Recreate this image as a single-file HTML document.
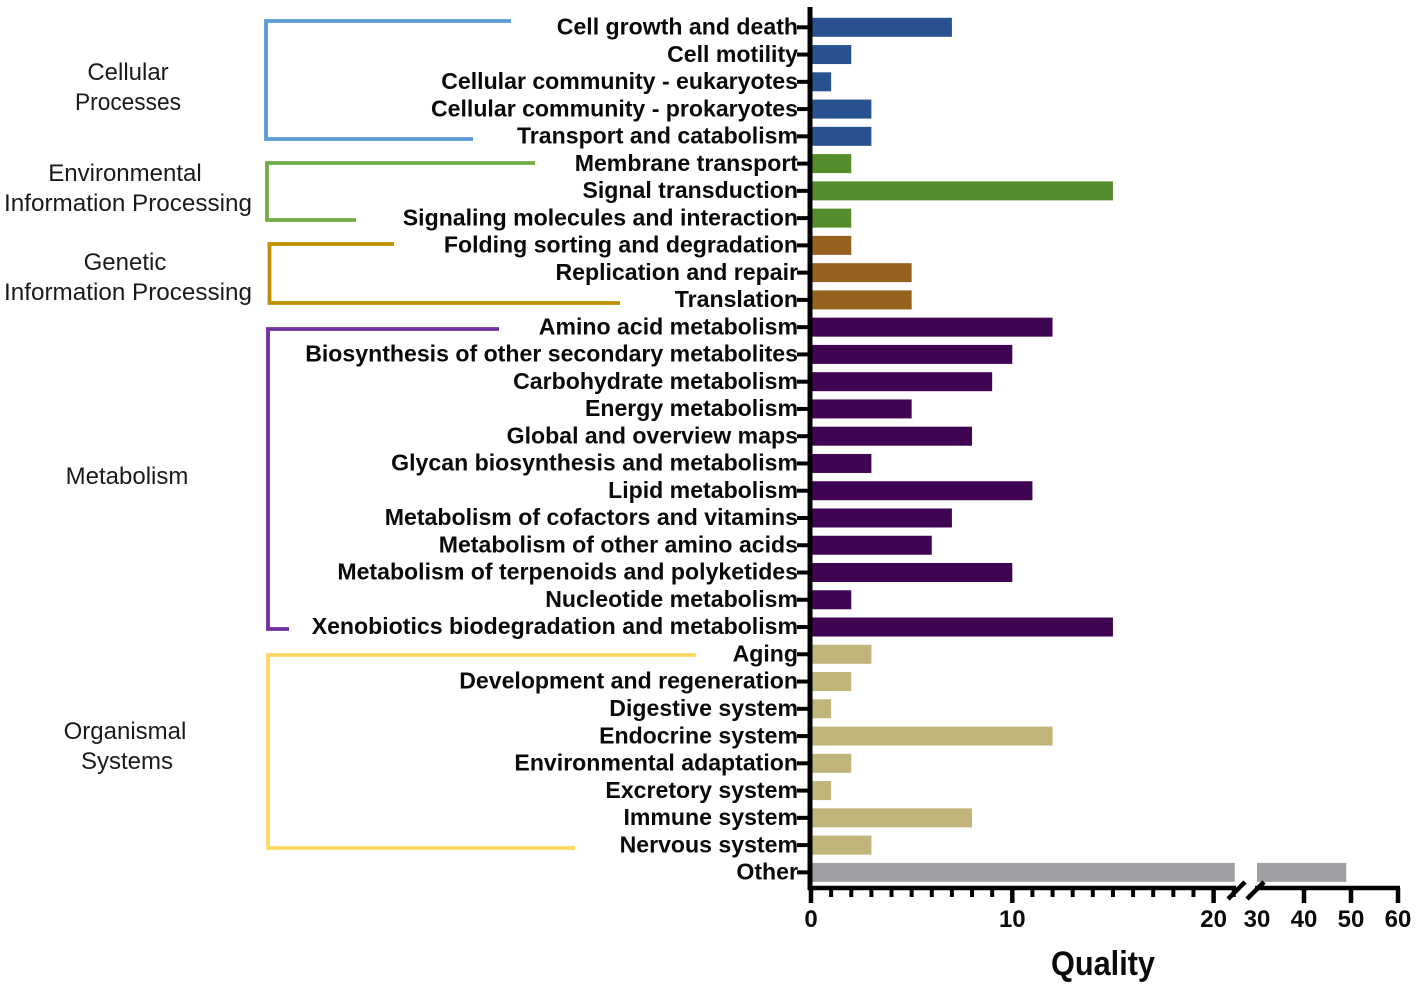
<!DOCTYPE html>
<html lang="en">
<head>
<meta charset="utf-8">
<title>KEGG Quality Chart</title>
<style>
  html, body { margin: 0; padding: 0; background: #fff; }
  body { width: 1418px; height: 989px; overflow: hidden; }
  svg { display: block; }
  .cat { font: bold 23.1px "Liberation Sans", sans-serif; fill: #0a0a0a; text-anchor: end; }
  .tick { font: bold 24px "Liberation Sans", sans-serif; fill: #0a0a0a; text-anchor: middle; }
  .group { font: 24px "Liberation Sans", sans-serif; fill: #1a1a1a; text-anchor: middle; }
  .title { font: bold 34px "Liberation Sans", sans-serif; fill: #0a0a0a; text-anchor: middle; }
</style>
</head>
<body>
<svg id="chart" width="1418" height="989" viewBox="0 0 1418 989" xmlns="http://www.w3.org/2000/svg">
  <g fill="none" stroke-width="3.8">
    <path stroke="#5b9bd5" d="M511 21H266V139H473"/>
    <path stroke="#70ad47" d="M535 163H267V220H356"/>
    <path stroke="#bf9000" d="M394 244H269.500V303H620"/>
    <path stroke="#7030a0" d="M499 329H268V629H289"/>
    <path stroke="#ffd966" d="M696 655H268V848H575"/>
  </g>
  <g>
    <text class="group" x="128" y="80">Cellular</text>
    <text class="group" x="128" y="110" textLength="106" lengthAdjust="spacingAndGlyphs">Processes</text>
    <text class="group" x="125" y="181">Environmental</text>
    <text class="group" x="128" y="211" textLength="248" lengthAdjust="spacingAndGlyphs">Information Processing</text>
    <text class="group" x="125" y="270">Genetic</text>
    <text class="group" x="128" y="300" textLength="248" lengthAdjust="spacingAndGlyphs">Information Processing</text>
    <text class="group" x="127" y="484">Metabolism</text>
    <text class="group" x="125" y="739">Organismal</text>
    <text class="group" x="127" y="769">Systems</text>
  </g>
  <g id="bars"></g>
  <g id="axes"></g>
  <text class="title" x="1103" y="975" textLength="104" lengthAdjust="spacingAndGlyphs">Quality</text>
</svg>
<script>
const categories = [
  "Cell growth and death", "Cell motility", "Cellular community - eukaryotes", "Cellular community - prokaryotes", "Transport and catabolism",
  "Membrane transport", "Signal transduction", "Signaling molecules and interaction",
  "Folding sorting and degradation", "Replication and repair", "Translation",
  "Amino acid metabolism", "Biosynthesis of other secondary metabolites", "Carbohydrate metabolism", "Energy metabolism", "Global and overview maps", "Glycan biosynthesis and metabolism", "Lipid metabolism", "Metabolism of cofactors and vitamins", "Metabolism of other amino acids", "Metabolism of terpenoids and polyketides", "Nucleotide metabolism", "Xenobiotics biodegradation and metabolism",
  "Aging", "Development and regeneration", "Digestive system", "Endocrine system", "Environmental adaptation", "Excretory system", "Immune system", "Nervous system",
  "Other"
];
const values = [7, 2, 1, 3, 3, 2, 15, 2, 2, 5, 5, 12, 10, 9, 5, 8, 3, 11, 7, 6, 10, 2, 15, 3, 2, 1, 12, 2, 1, 8, 3, 49];
const groupIndex = [0, 0, 0, 0, 0, 1, 1, 1, 2, 2, 2, 3, 3, 3, 3, 3, 3, 3, 3, 3, 3, 3, 3, 4, 4, 4, 4, 4, 4, 4, 4, 5];
const groupColors = ["#28528f", "#548e2c", "#96631f", "#400552", "#c1b47a", "#a0a0a4"];
const lowerTicks = [0, 10, 20];
const upperTicks = [40, 50, 60];
const breakLabelTick = [30];
const lowerMax = 21.05;
const upperMin = 30;

const SVGNS = "http://www.w3.org/2000/svg";
const X0 = 811, LOWER_PX = 20.13, UPPER_X0 = 1257, UPPER_PX = 4.7;
const Y0 = 27.3, ROW = 27.26, BAR_H = 19;
const AXIS_Y = 888;

function xScale(v) {
  return v <= lowerMax ? X0 + v * LOWER_PX : UPPER_X0 + (v - upperMin) * UPPER_PX;
}
function yScale(i) { return Y0 + i * ROW; }
function make(tag, attrs, parent, text) {
  const el = document.createElementNS(SVGNS, tag);
  for (const k in attrs) el.setAttribute(k, attrs[k]);
  if (text !== undefined) el.textContent = text;
  parent.appendChild(el);
  return el;
}
function slug(s) { return s.toLowerCase().replace(/[^a-z0-9]+/g, "-"); }

const barsG = document.getElementById("bars");
const axesG = document.getElementById("axes");

categories.forEach(function (name, i) {
  const y = yScale(i);
  const color = groupColors[groupIndex[i]];
  const v = values[i];
  const lowerEnd = xScale(Math.min(v, lowerMax));
  const bar = make("rect", { x: X0, y: y - BAR_H / 2, width: lowerEnd - X0, height: BAR_H, fill: color }, barsG);
  
  
  if (v > lowerMax) {
    const upperBar = make("rect", { x: xScale(upperMin), y: y - BAR_H / 2, width: xScale(v) - xScale(upperMin), height: BAR_H, fill: color }, barsG);
    
    
  }
  const tick = make("line", { x1: 797, x2: 811, y1: y, y2: y, stroke: "#000", "stroke-width": 4 }, axesG);
  
  
  const label = make("text", { class: "cat", x: 798, y: y + 7.2 }, axesG, name);
  
  
});

const yAxis = make("line", { x1: 810, x2: 810, y1: 7, y2: AXIS_Y + 2, stroke: "#000", "stroke-width": 5 }, axesG);



const xLower = make("line", { x1: 808, x2: 1236, y1: AXIS_Y, y2: AXIS_Y, stroke: "#000", "stroke-width": 4.5 }, axesG);


const xUpper = make("line", { x1: 1255, x2: 1400, y1: AXIS_Y, y2: AXIS_Y, stroke: "#000", "stroke-width": 4.5 }, axesG);



const breakA = make("line", { x1: 1228, y1: 899, x2: 1245, y2: 882, stroke: "#000", "stroke-width": 4.5 }, axesG);


const breakB = make("line", { x1: 1247, y1: 899, x2: 1264, y2: 882, stroke: "#000", "stroke-width": 4.5 }, axesG);



for (let m = 1; m <= 21; m++) {
  if (m % 10 === 0) continue;
  const minor = make("line", { x1: xScale(m), x2: xScale(m), y1: AXIS_Y, y2: AXIS_Y + 9, stroke: "#000", "stroke-width": 4 }, axesG);
  
  
}
lowerTicks.concat(upperTicks).forEach(function (t) {
  const x = xScale(t);
  const major = make("line", { x1: x, x2: x, y1: AXIS_Y, y2: AXIS_Y + 15, stroke: "#000", "stroke-width": 4.5 }, axesG);
  
  
});
lowerTicks.concat(breakLabelTick, upperTicks).forEach(function (t) {
  const lbl = make("text", { class: "tick", x: xScale(t), y: 927 }, axesG, String(t));
  
  
});
</script>
</body>
</html>
